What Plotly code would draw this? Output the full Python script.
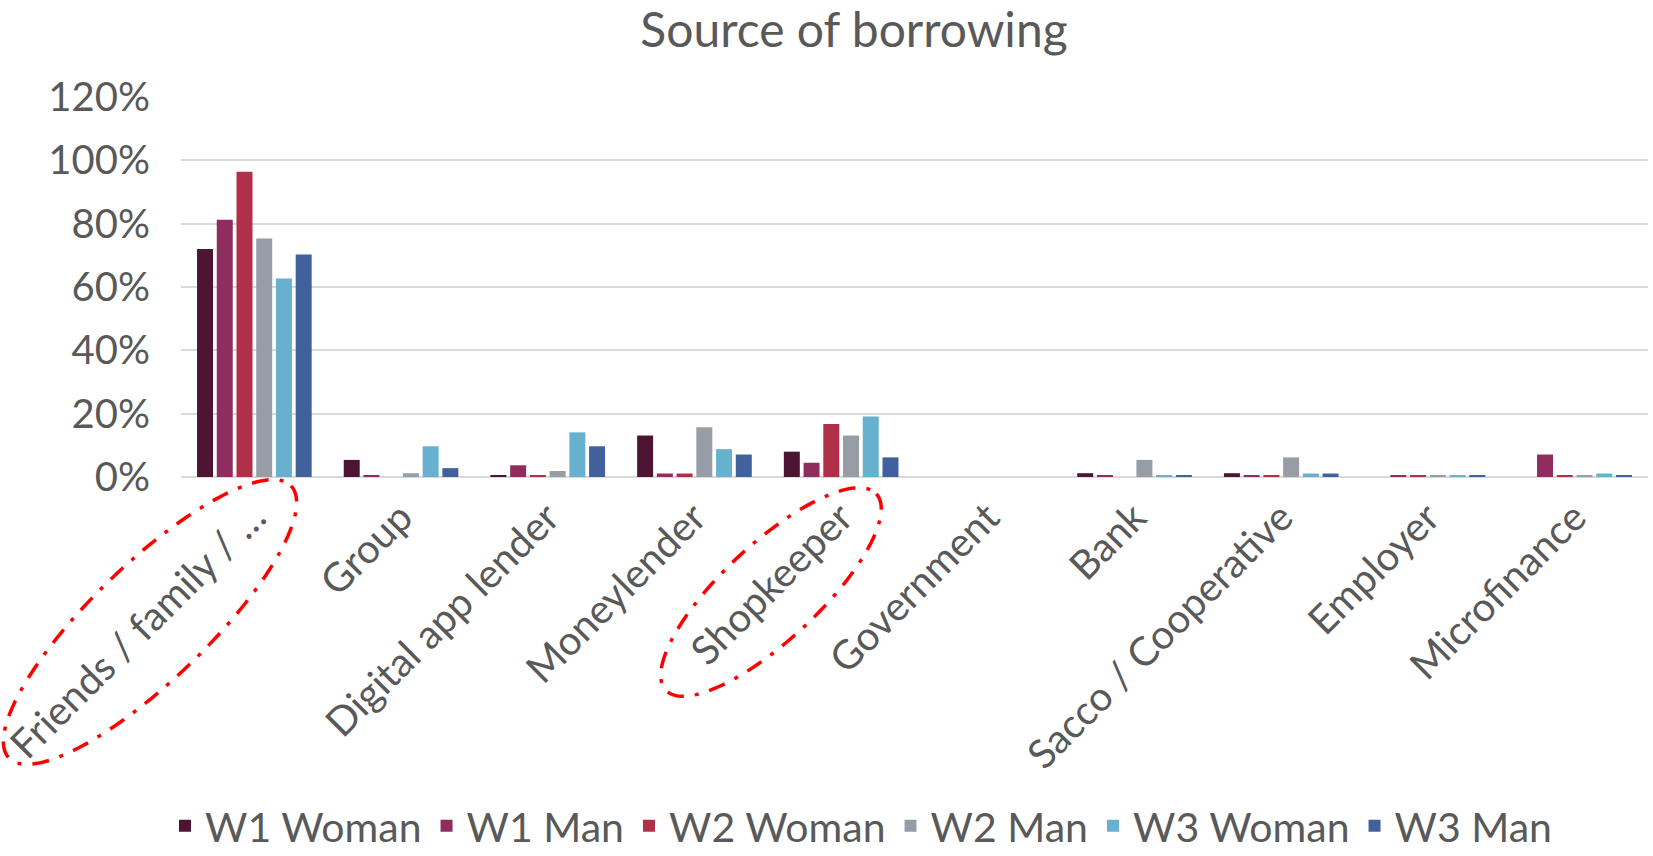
import numpy as np
import plotly.graph_objects as go

# Borrowing sources (x categories)
categories = [
    "Friends / family / …", "Group", "Digital app lender", "Moneylender",
    "Shopkeeper", "Government", "Bank", "Sacco / Cooperative",
    "Employer", "Microfinance",
]

# Share of respondents borrowing from each source, by wave and gender
w1_woman = [0.720, 0.054, 0.006, 0.131, 0.080, 0.0, 0.012, 0.012, 0.000, 0.000]
w1_man   = [0.812, 0.006, 0.037, 0.011, 0.045, 0.0, 0.006, 0.006, 0.006, 0.071]
w2_woman = [0.964, 0.000, 0.006, 0.011, 0.167, 0.0, 0.000, 0.006, 0.006, 0.006]
w2_man   = [0.753, 0.012, 0.019, 0.157, 0.131, 0.0, 0.054, 0.062, 0.006, 0.006]
w3_woman = [0.627, 0.097, 0.141, 0.088, 0.191, 0.0, 0.006, 0.011, 0.006, 0.011]
w3_man   = [0.703, 0.028, 0.097, 0.071, 0.062, 0.0, 0.006, 0.011, 0.006, 0.006]

series_names = ["W1 Woman", "W1 Man", "W2 Woman", "W2 Man", "W3 Woman", "W3 Man"]
series_values = [w1_woman, w1_man, w2_woman, w2_man, w3_woman, w3_man]
series_colors = ["#4E1433", "#8E2E5F", "#B03049", "#969DA6", "#67B1CE", "#41619C"]

y_ticks = [0, 0.2, 0.4, 0.6, 0.8, 1.0, 1.2]

FONT = "Lato"
TEXT = "#595959"
W, H = 1653, 856
M_L, M_R, M_T, M_B = 181, 5, 97, 379
PW, PH = W - M_L - M_R, H - M_T - M_B

fig = go.Figure()
for name, vals, col in zip(series_names, series_values, series_colors):
    fig.add_trace(go.Bar(
        x=categories, y=vals, name=name,
        marker=dict(color=col, line=dict(width=0)),
    ))


def ellipse_path(cx, cy, a, b, angle_deg, n=120):
    """Rotated ellipse given in page pixels, returned as a paper-coord SVG path."""
    t = np.linspace(0, 2 * np.pi, n, endpoint=False)
    th = np.deg2rad(angle_deg)
    px = cx + a * np.cos(t) * np.cos(th) - b * np.sin(t) * np.sin(th)
    py = cy + a * np.cos(t) * np.sin(th) + b * np.sin(t) * np.cos(th)
    xs = (px - M_L) / PW
    ys = (H - M_B - py) / PH
    pts = [f"{x:.5f},{y:.5f}" for x, y in zip(xs, ys)]
    return "M " + " L ".join(pts) + " Z"


# Dash-dot highlight rings around two of the category labels
highlights = [
    dict(cx=150, cy=622, a=196, b=58, angle=-44),
    dict(cx=771, cy=592, a=144, b=48, angle=-43),
]
for h in highlights:
    fig.add_shape(
        type="path", xref="paper", yref="paper",
        path=ellipse_path(h["cx"], h["cy"], h["a"], h["b"], h["angle"]),
        line=dict(color="#FF0000", width=3.5, dash="17px,11px,4px,11px"),
        fillcolor="rgba(0,0,0,0)", layer="above",
    )

fig.update_layout(
    width=W, height=H,
    margin=dict(l=M_L, r=M_R, t=M_T, b=M_B, autoexpand=False),
    paper_bgcolor="white", plot_bgcolor="white",
    font=dict(family=FONT, color=TEXT),
    title=dict(
        text="Source of borrowing", x=854 / W, xref="container", xanchor="center",
        y=1 - 30 / H, yref="container", yanchor="middle",
        font=dict(family=FONT, size=48, color=TEXT),
    ),
    barmode="group", bargap=0.193, bargroupgap=0.19,
    showlegend=True,
    legend=dict(
        orientation="h", x=861 / W, xref="container", xanchor="center",
        y=(H - 826) / H, yref="container", yanchor="middle",
        font=dict(family=FONT, size=41, color=TEXT),
        traceorder="normal", itemclick=False, itemwidth=30,
    ),
    xaxis=dict(
        tickmode="array", tickvals=categories, ticktext=categories,
        tickangle=-45, tickfont=dict(family=FONT, size=40, color=TEXT),
        showgrid=False, showline=False, ticks="", ticklabelstandoff=8,
        automargin=False,
    ),
    yaxis=dict(
        range=[0, 1.2], tickvals=y_ticks, tickformat=".0%",
        tickfont=dict(family=FONT, size=40, color=TEXT),
        showgrid=True, gridcolor="#D9D9D9", gridwidth=1.5,
        zeroline=True, zerolinecolor="#D9D9D9", zerolinewidth=1.5,
        showline=False, ticks="", ticklabelstandoff=30, automargin=False,
    ),
)

fig.write_html("out.html")
